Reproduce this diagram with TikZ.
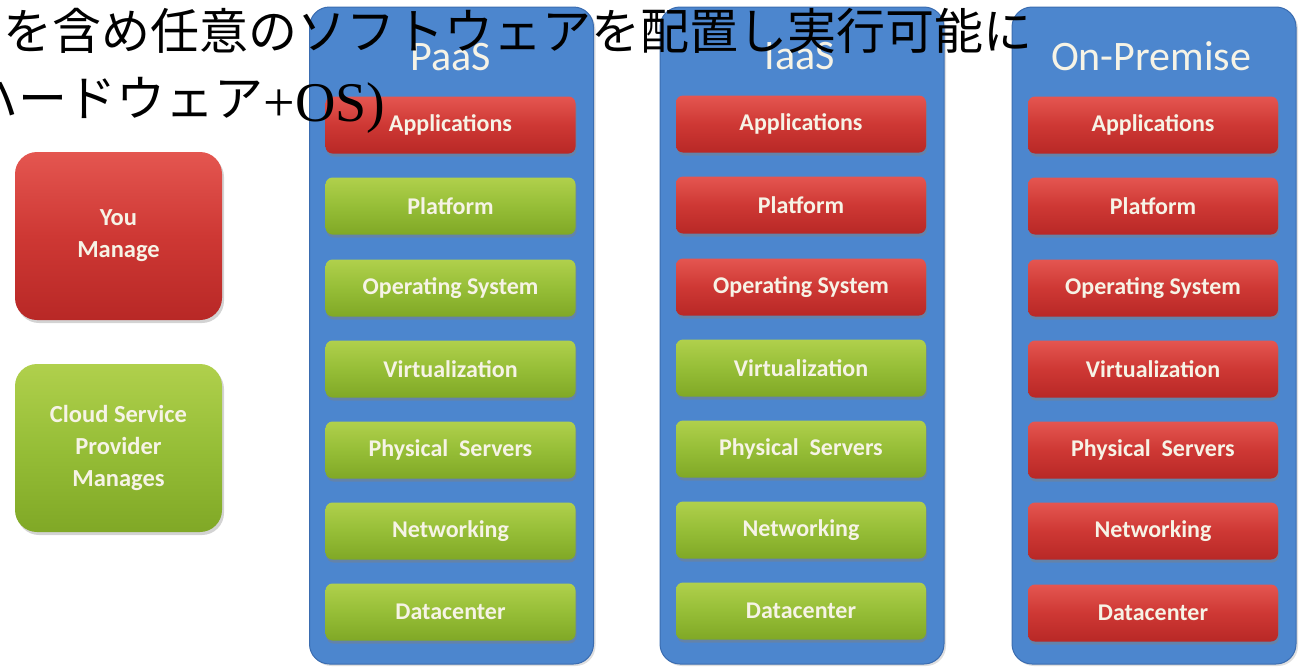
\documentclass[tikz,border=0pt]{standalone}
\usepackage{fontspec}
\setmainfont{Carlito}
\newfontfamily\cjk{Noto Sans CJK JP}
\newfontfamily\serifrm{Liberation Serif}
\usetikzlibrary{shadows}

\definecolor{stackblue}{RGB}{76,134,206}
\definecolor{stackedge}{RGB}{58,108,176}
\definecolor{ownred}{RGB}{206,56,52}
\definecolor{ownredtop}{RGB}{228,86,80}
\definecolor{ownredbot}{RGB}{184,40,38}
\definecolor{cloudgreen}{RGB}{150,190,55}
\definecolor{cloudgreentop}{RGB}{176,208,76}
\definecolor{cloudgreenbot}{RGB}{128,168,38}
\definecolor{labelwhite}{RGB}{246,243,230}

\tikzset{
    stack/.style={draw=stackedge, line width=1pt, fill=stackblue, rounded corners=20pt,
        minimum width=284pt, minimum height=657pt, inner sep=0pt,
        drop shadow={opacity=0.25, shadow xshift=2pt, shadow yshift=-2pt}},
    stacktitle/.style={text=labelwhite, font=\fontsize{42}{42}\selectfont, inner sep=0pt},
    layer/.style={rounded corners=7pt, minimum width=250pt, minimum height=57pt, inner sep=0pt,
        text=labelwhite, font=\bfseries\fontsize{24}{24}\selectfont,
        drop shadow={opacity=0.45, shadow xshift=1pt, shadow yshift=-3pt}},
    own/.style={layer, top color=ownredtop, bottom color=ownredbot, middle color=ownred},
    cloud/.style={layer, top color=cloudgreentop, bottom color=cloudgreenbot, middle color=cloudgreen},
    legend/.style={rounded corners=22pt, minimum width=207pt, minimum height=168pt, inner sep=0pt,
        align=center, text=labelwhite, font=\bfseries\fontsize{24.5}{32}\selectfont,
        drop shadow={opacity=0.35, shadow xshift=2pt, shadow yshift=-3pt}},
}

\begin{document}
\begin{tikzpicture}[x=1pt,y=-1pt]

    \useasboundingbox (0,0) rectangle (1301,667);

    % legend
    \node [legend, top color=ownredtop, bottom color=ownredbot, middle color=ownred] (youmanage) at (118.5,236) {You\\Manage};
    \node [legend, top color=cloudgreentop, bottom color=cloudgreenbot, middle color=cloudgreen] (provider) at (118.5,448) {Cloud Service\\Provider\\Manages};

    % PaaS column
    \node [stack] (paas) at (451.5,335.5) {};
    \node [stacktitle] (paastitle) at (451,57) {PaaS};
    \node [own]   (paasapp)  at (450.5,125) {Applications};
    \node [cloud] (paasplat) at (450.5,206) {Platform};
    \node [cloud] (paasos)   at (450.5,288) {Operating System};
    \node [cloud] (paasvirt) at (450.5,369) {Virtualization};
    \node [cloud] (paassrv)  at (450.5,450) {Physical\ \ Servers};
    \node [cloud] (paasnet)  at (450.5,531) {Networking};
    \node [cloud] (paasdc)   at (450.5,612) {Datacenter};

    % IaaS column
    \node [stack] (iaas) at (802,335.5) {};
    \node [stacktitle] (iaastitle) at (800,56) {IaaS};
    \node [own]   (iaasapp)  at (801,124) {Applications};
    \node [own]   (iaasplat) at (801,205) {Platform};
    \node [own]   (iaasos)   at (801,287) {Operating System};
    \node [cloud] (iaasvirt) at (801,368) {Virtualization};
    \node [cloud] (iaassrv)  at (801,449) {Physical\ \ Servers};
    \node [cloud] (iaasnet)  at (801,530) {Networking};
    \node [cloud] (iaasdc)   at (801,611) {Datacenter};

    % On-Premise column
    \node [stack] (onprem) at (1154,335.5) {};
    \node [stacktitle] (onpremtitle) at (1151,56) {On-Premise};
    \node [own] (onpremapp)  at (1153,125) {Applications};
    \node [own] (onpremplat) at (1153,206) {Platform};
    \node [own] (onpremos)   at (1153,288) {Operating System};
    \node [own] (onpremvirt) at (1153,369) {Virtualization};
    \node [own] (onpremsrv)  at (1153,450) {Physical\ \ Servers};
    \node [own] (onpremnet)  at (1153,531) {Networking};
    \node [own] (onpremdc)   at (1153,613) {Datacenter};

    % text laid over the top
    \node [anchor=base west, inner sep=0pt, font=\cjk\fontsize{49}{49}\selectfont] (noteone) at (3,49) {を含め任意のソフトウェアを配置し実行可能に};
    \node [anchor=base west, inner sep=0pt, font=\cjk\fontsize{49}{49}\selectfont] (notetwo) at (-31,116) {ハードウェア};
    \node [anchor=base west, inner sep=0pt, font=\serifrm\fontsize{56}{56}\selectfont] (noteos) at ([yshift=-5pt]notetwo.base east) {+OS)};

\end{tikzpicture}
\end{document}
